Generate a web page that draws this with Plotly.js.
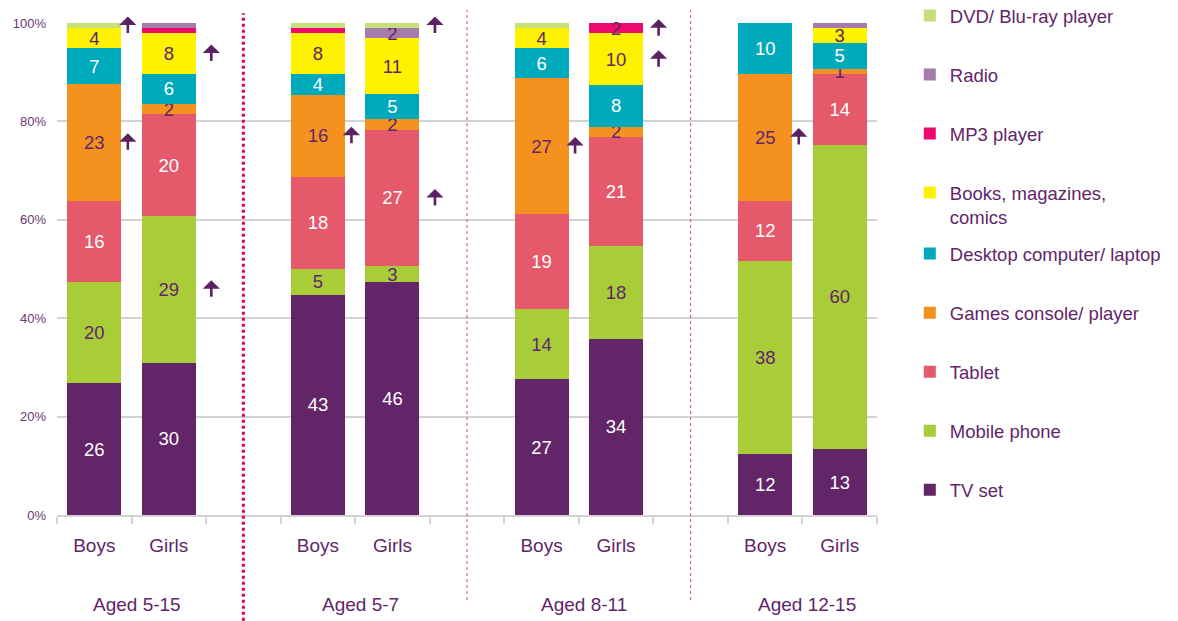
<!DOCTYPE html>
<html><head><meta charset="utf-8">
<script src="https://cdn.plot.ly/plotly-3.0.1.min.js"></script>
<style>html,body{margin:0;padding:0;background:#fff;}#chart{width:1178px;height:621px;}</style>
</head><body><div id="chart"></div>
<script>
// ---- data (bars in order: Boys/Girls for each age group) ----
const groups = ['Aged 5-15', 'Aged 5-7', 'Aged 8-11', 'Aged 12-15'];
const sexes = ['Boys', 'Girls'];
const tvSet      = [26, 30, 43, 46, 27, 34, 12, 13];
const mobile     = [20, 29,  5,  3, 14, 18, 38, 60];
const tablet     = [16, 20, 18, 27, 19, 21, 12, 14];
const games      = [23,  2, 16,  2, 27,  2, 25,  1];
const desktop    = [ 7,  6,  4,  5,  6,  8, 10,  5];
const books      = [ 4,  8,  8, 11,  4, 10,  0,  3];
const mp3        = [ 0,  1,  1,  0,  0,  2,  0,  0];
const radio      = [ 0,  1,  0,  2,  0,  0,  0,  1];
const dvd        = [ 1,  0,  1,  1,  1,  0,  0,  0];
const seriesNames = ['TV set', 'Mobile phone', 'Tablet', 'Games console/ player',
  'Desktop computer/ laptop', 'Books, magazines,<br>comics', 'MP3 player', 'Radio', 'DVD/ Blu-ray player'];
const seriesValues = [tvSet, mobile, tablet, games, desktop, books, mp3, radio, dvd];
const yTickVals = [0, 20, 40, 60, 80, 100];
const yTickText = ['0%', '20%', '40%', '60%', '80%', '100%'];
// arrows (significant increases): bar index + series index
const arrowBars   = [0, 0, 1, 1, 2, 3, 3, 4, 5, 5, 6, 7, 7];
const arrowSeries = [8, 3, 5, 1, 3, 8, 2, 3, 6, 5, 3, 5, 1];

// ---- styles ----
const colors = ['#622567', '#a8cd38', '#e5596a', '#f5921f', '#00aabd', '#fff200', '#ec0a6f', '#a57ba9', '#c6de7c'];
const textColors = ['#ffffff', '#62256a', '#ffffff', '#62256a', '#ffffff', '#62256a', '#62256a', '#62256a', '#62256a'];
const minLabel = [1, 1, 1, 1, 1, 1, 2, 2, 2];
const legendOf = ['legend2','legend2','legend2','legend2','legend2','legend','legend','legend','legend'];
const purple = '#62256a';
const FONT = 'Liberation Sans, Arial, sans-serif';
const grid = '#d3d3d3';

const xPos = [];
const xLabels = [];
groups.forEach((g, gi) => sexes.forEach((s, si) => { xPos.push(gi * 3 + si); xLabels.push(s); }));

const traces = seriesValues.map((vals, k) => ({
  type: 'bar',
  name: seriesNames[k],
  x: xPos,
  y: vals,
  marker: { color: colors[k], line: { width: 0 } },
  text: vals.map(v => (v >= minLabel[k] ? String(v) : '')),
  textposition: 'inside',
  insidetextanchor: 'middle',
  textangle: 0,
  constraintext: 'none',
  cliponaxis: false,
  insidetextfont: { family: FONT, size: 18.5, color: textColors[k] },
  width: 0.725,
  legend: legendOf[k],
  legendgroup: 'g' + k,
  legendrank: seriesValues.length - k,
  hoverinfo: 'skip'
}));

// arrow positions from normalized stacks
const totals = xPos.map((_, i) => seriesValues.reduce((a, s) => a + s[i], 0));
const annotations = [];
arrowBars.forEach((b, j) => {
  const k = arrowSeries[j];
  let below = 0;
  for (let m = 0; m < k; m++) below += seriesValues[m][b];
  const center = (below + seriesValues[k][b] / 2) / totals[b] * 100;
  const isGirl = (b % 2) === 1;
  annotations.push({
    x: xPos[b] + (isGirl ? 0.57 : 0.45), y: center, xref: 'x', yref: 'y',
    text: '', showarrow: true, ax: 0, ay: 18, yshift: 9,
    arrowhead: 1, arrowsize: 1.1, arrowwidth: 2.6, arrowcolor: '#5a2260'
  });
});
groups.forEach((g, gi) => {
  annotations.push({
    x: gi * 3 + 0.5, y: -0.181, xref: 'x', yref: 'paper', xshift: 5,
    text: g, showarrow: false, yanchor: 'middle', xanchor: 'center',
    font: { family: FONT, size: 19, color: purple }
  });
});

const shapes = [
  { type: 'line', xref: 'x', yref: 'paper', x0: 2, x1: 2, y0: -0.215, y1: 1.02,
    line: { color: '#e4004f', width: 3, dash: 'dot' } },
  { type: 'line', xref: 'x', yref: 'paper', x0: 5, x1: 5, y0: -0.173, y1: 1.026,
    line: { color: '#e0407a', width: 1, dash: 'dot' } },
  { type: 'line', xref: 'x', yref: 'paper', x0: 8, x1: 8, y0: -0.173, y1: 1.026,
    line: { color: '#e0407a', width: 1, dash: 'dot' } }
];

const legendBase = {
  x: 1.040, xanchor: 'left', yanchor: 'top',
  font: { family: FONT, size: 18.5, color: purple },
  bgcolor: 'rgba(0,0,0,0)', traceorder: 'grouped', tracegroupgap: 32,
  valign: 'top', itemclick: false, itemdoubleclick: false
};

const layout = {
  width: 1178, height: 621,
  margin: { l: 57, r: 301, t: 23, b: 106, autoexpand: false },
  paper_bgcolor: '#ffffff', plot_bgcolor: '#ffffff',
  barmode: 'stack', barnorm: 'percent',
  showlegend: true,
  legend: Object.assign({}, legendBase, { y: 1.053 }),
  legend2: Object.assign({}, legendBase, { y: 0.569 }),
  xaxis: {
    range: [-0.5, 10.5], tickmode: 'array', tickvals: xPos, ticktext: xLabels,
    ticks: '', showgrid: false, zeroline: false,
    showline: true, linecolor: grid, linewidth: 2,
    tickfont: { family: FONT, size: 19, color: purple }, ticklabelstandoff: 12,
    minor: { tickmode: 'linear', tick0: -0.5, dtick: 1, ticks: 'outside', ticklen: 7,
      tickwidth: 2, tickcolor: grid, showgrid: false },
    fixedrange: true
  },
  yaxis: {
    range: [0, 100], tickmode: 'array', tickvals: yTickVals, ticktext: yTickText,
    showgrid: true, gridcolor: grid, gridwidth: 2, zeroline: false, showline: false,
    ticks: '', tickfont: { family: FONT, size: 13, color: '#6e3474' }, ticklabelstandoff: 10,
    fixedrange: true
  },
  annotations: annotations,
  shapes: shapes
};

Plotly.newPlot('chart', traces, layout, { staticPlot: true, displayModeBar: false });
</script>
</body></html>
